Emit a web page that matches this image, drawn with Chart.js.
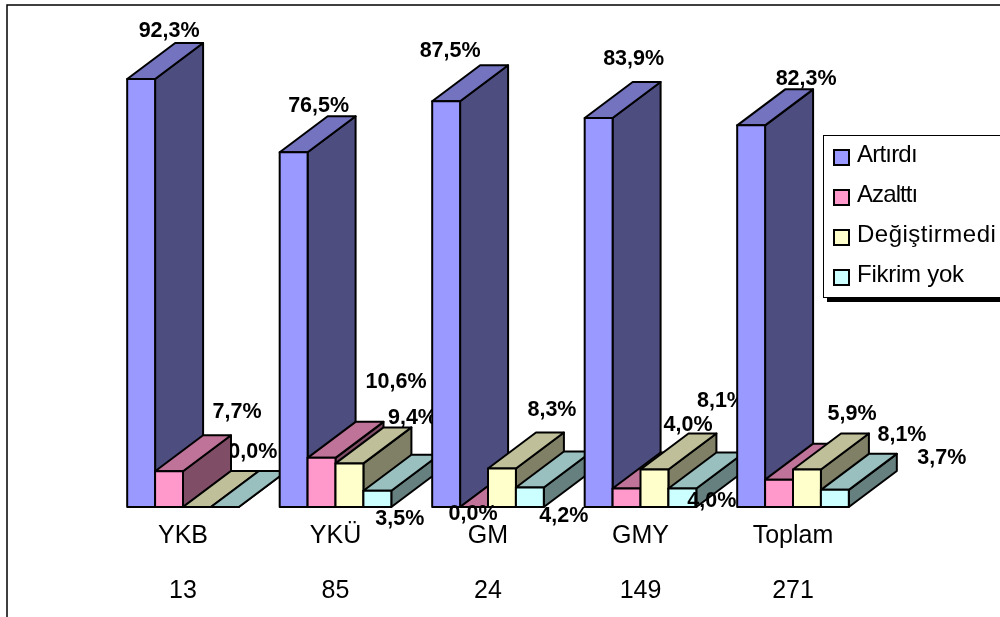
<!DOCTYPE html>
<html>
<head>
<meta charset="utf-8">
<title>Artırdı / Azalttı</title>
<script src="https://cdn.jsdelivr.net/npm/chart.js@4"></script>
<style>
    html, body { margin: 0; padding: 0; background: #fff; overflow: hidden; }
    canvas { display: block; }
</style>
</head>
<body>
<canvas id="chart" width="1000" height="617"></canvas>
<script>
// Kategoriler ve yanıt sayıları
const categories = ['YKB', 'YKÜ', 'GM', 'GMY', 'Toplam'];
const counts = [13, 85, 24, 149, 271];

// Yüzde değerleri
const artirdi = [92.3, 76.5, 87.5, 83.9, 82.3];
const azaltti = [7.7, 10.6, 0.0, 4.0, 5.9];
const degistirmedi = [0.0, 9.4, 8.3, 8.1, 8.1];
const fikrimYok = [0.0, 3.5, 4.2, 4.0, 3.7];

// Üç boyutlu yüzlerin renkleri: ön, üst, yan
const faces = [
    ['#9999ff', '#7373bf', '#4d4d80'],
    ['#ff99cc', '#bf7399', '#804d66'],
    ['#ffffcc', '#bfbf99', '#808066'],
    ['#ccffff', '#99bfbf', '#668080']
];
const DEPTH_X = 48;
const DEPTH_Y = 36;

// Etiketlerin çubuğa göre kayması [dx, dy]; null olan etiket çizilmez
const labelOffsets = [
    [[28, -48], [25, -46], [4, -50], [35, -59], [55, -46]],
    [[68, -59], [74.5, -75.6], [-1, 7], [61.5, -63.5], [73, -65.6]],
    [null, [63, -45], [50, -58.5], [67, -68], [95, -34]],
    [[28, -55], [22.5, 28], [34, 28.5], [29.5, 13], [107, -32]]
];
// Çubukların üstüne yazılan etiketler: "seri:kategori"
const frontLabels = ['1:2', '2:2', '3:2', '3:1', '3:3'];

// Lejant yazılarının harf aralığı
const legendSpacing = ['-0.8px', '-0.9px', '0.5px', '-0.25px'];

function formatPct(v) {
    return v.toFixed(1).replace('.', ',') + '%';
}

function polygon(c, pts, fill) {
    c.beginPath();
    c.moveTo(pts[0][0], pts[0][1]);
    for (let i = 1; i < pts.length; i++) c.lineTo(pts[i][0], pts[i][1]);
    c.closePath();
    c.fillStyle = fill;
    c.fill();
    c.stroke();
}

// Tek çubuk: yan yüz, üst yüz, ön yüz
function drawBar3d(c, bar, colors) {
    const l = bar.x - bar.width / 2;
    const r = bar.x + bar.width / 2;
    const t = bar.y;
    const b = bar.base;
    polygon(c, [[r, t], [r + DEPTH_X, t - DEPTH_Y], [r + DEPTH_X, b - DEPTH_Y], [r, b]], colors[2]);
    polygon(c, [[l, t], [l + DEPTH_X, t - DEPTH_Y], [r + DEPTH_X, t - DEPTH_Y], [r, t]], colors[1]);
    polygon(c, [[l, t], [r, t], [r, b], [l, b]], colors[0]);
}

function drawLabel(c, chart, d, i) {
    const off = labelOffsets[d][i];
    if (!off) return;
    const bar = chart.getDatasetMeta(d).data[i];
    c.fillStyle = '#000';
    c.font = 'bold 21.5px "Liberation Sans"';
    c.textAlign = 'center';
    c.textBaseline = 'middle';
    c.fillText(formatPct(chart.data.datasets[d].data[i]), bar.x + off[0], bar.y + off[1]);
}

const bars3d = {
    id: 'bars3d',
    beforeDraw(chart) {
        const c = chart.ctx;
        c.save();
        c.fillStyle = '#fff';
        c.fillRect(0, 0, chart.width, chart.height);
        c.strokeStyle = '#000';
        c.lineWidth = 1.5;
        c.strokeRect(7, 5, chart.width + 20, chart.height + 20);
        c.restore();
    },
    // Kategorileri soldan sağa boyayarak öndeki yüzlerin arkadakileri örtmesini sağlar
    beforeDatasetsDraw(chart) {
        const c = chart.ctx;
        const sets = chart.data.datasets;
        c.save();
        c.strokeStyle = '#000';
        c.lineWidth = 2;
        c.lineJoin = 'round';
        categories.forEach((_, i) => {
            sets.forEach((_, d) => {
                if (!frontLabels.includes(d + ':' + i)) drawLabel(c, chart, d, i);
            });
            sets.forEach((_, d) => {
                drawBar3d(c, chart.getDatasetMeta(d).data[i], faces[d]);
            });
        });
        frontLabels.forEach(key => {
            const [d, i] = key.split(':').map(Number);
            drawLabel(c, chart, d, i);
        });
        c.restore();
        return false;
    },
    // Lejant kutusu
    afterDraw(chart) {
        const c = chart.ctx;
        c.save();
        c.fillStyle = '#000';
        c.fillRect(827, 140, chart.width, 162);
        c.fillStyle = '#fff';
        c.strokeStyle = '#000';
        c.lineWidth = 1;
        c.fillRect(823.5, 135.5, chart.width, 162);
        c.strokeRect(823.5, 135.5, chart.width, 162);
        c.font = '24px "Liberation Sans"';
        c.textAlign = 'left';
        c.textBaseline = 'middle';
        chart.data.datasets.forEach((ds, d) => {
            const y = 150 + d * 40;
            c.lineWidth = 2;
            c.fillStyle = faces[d][0];
            c.fillRect(834, y, 15, 15);
            c.strokeRect(834, y, 15, 15);
            c.fillStyle = '#000';
            c.letterSpacing = legendSpacing[d];
            c.fillText(ds.label, 857, y + 5);
        });
        c.restore();
    }
};

new Chart(document.getElementById('chart'), {
    type: 'bar',
    data: {
        labels: categories.map((name, i) => [name, String(counts[i])]),
        datasets: [
            { label: 'Artırdı', data: artirdi },
            { label: 'Azalttı', data: azaltti },
            { label: 'Değiştirmedi', data: degistirmedi },
            { label: 'Fikrim yok', data: fikrimYok }
        ]
    },
    options: {
        responsive: false,
        animation: false,
        categoryPercentage: 0.732,
        barPercentage: 1,
        layout: { padding: { left: 106.75, right: 130.75, top: 43.3, bottom: 0 } },
        plugins: { legend: { display: false }, tooltip: { enabled: false } },
        scales: {
            x: {
                grid: { display: false },
                border: { display: false },
                afterFit(scale) { scale.height = 110; },
                ticks: {
                    color: '#000',
                    autoSkip: false,
                    maxRotation: 0,
                    padding: -6,
                    font: { family: '"Liberation Sans"', size: 25, lineHeight: 2.2 }
                }
            },
            y: { display: false, min: 0, max: 100 }
        }
    },
    plugins: [bars3d]
});
</script>
</body>
</html>
